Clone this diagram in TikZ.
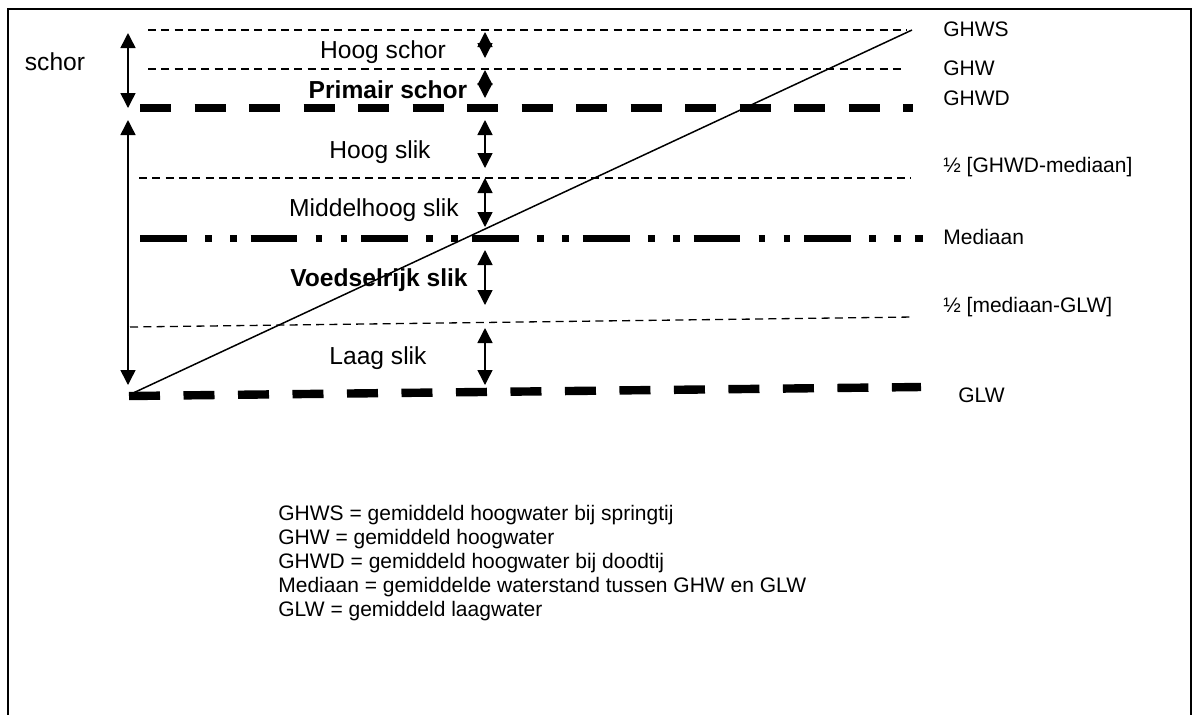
\documentclass[tikz,border=0pt]{standalone}
\usepackage{fontspec}
\setmainfont{Liberation Sans}
\usetikzlibrary{arrows.meta}

\begin{document}
\begin{tikzpicture}[
  x=0.5pt, y=-0.5pt,
  >={Triangle[length=7.5pt,width=7.5pt]},
  thindash/.style={line width=0.65pt, dash pattern=on 4pt off 2.65pt},
  thickdash/.style={line width=4.2pt, dash pattern=on 15.5pt off 11.75pt},
  median/.style={line width=3.5pt,
    dash pattern=on 23.35pt off 9.15pt on 3.35pt off 9.15pt on 3.35pt off 7pt},
  dimarrow/.style={<->, line width=0.75pt},
  zone/.style={font=\fontsize{12.3}{14}\selectfont, inner sep=0pt},
  zonebf/.style={font=\fontsize{12.3}{14}\selectfont\bfseries, inner sep=0pt},
  level/.style={font=\fontsize{10.5}{12}\selectfont, anchor=west, inner sep=0pt},
]
\useasboundingbox (0,0) rectangle (1195,714);

% frame, open at the bottom
\draw[line width=1pt] (8,716) -- (8,9) -- (1191,9) -- (1191,716);

% water levels
\coordinate (ghws-l) at (148,30);  \coordinate (ghws-r) at (907,30);
\coordinate (ghw-l)  at (148,69);  \coordinate (ghw-r)  at (906,69);
\coordinate (ghwd-l) at (140,108); \coordinate (ghwd-r) at (913,108);
\coordinate (half1-l) at (139,178); \coordinate (half1-r) at (911,178);
\coordinate (med-l)  at (140,238); \coordinate (med-r)  at (923,238);
\coordinate (half2-l) at (130,327); \coordinate (half2-r) at (913,317);
\coordinate (glw-l)  at (129,396); \coordinate (glw-r)  at (921,387);

\draw[thindash] (ghws-l) -- (ghws-r);
\draw[thindash] (ghw-l) -- (ghw-r);
\draw[thickdash] (ghwd-l) -- (ghwd-r);
\draw[thindash] (half1-l) -- (half1-r);
\draw[median] (med-l) -- (med-r);
\draw[thindash] (half2-l) -- (half2-r);
\draw[thickdash] (glw-l) -- (glw-r);

% slope
\coordinate (slope-lo) at (131,394);
\coordinate (slope-hi) at (912,30);
\draw[line width=0.75pt] (slope-lo) -- (slope-hi);

% level names
\node[level] (n-ghws)  at (943,29)  {GHWS};
\node[level] (n-ghw)   at (943,68)  {GHW};
\node[level] (n-ghwd)  at (943,98)  {GHWD};
\node[level] (n-half1) at (943,167) {½ [GHWD-mediaan]};
\node[level] (n-med)   at (943,237) {Mediaan};
\node[level] (n-half2) at (943,307) {½ [mediaan-GLW]};
\node[level] (n-glw)   at (958,395) {GLW};

% left ranges
\node[zone] (schor) at (55,62) {schor};
\coordinate (sc-top) at (128,33);  \coordinate (sc-bot) at (128,108);
\coordinate (sl-top) at (128,120); \coordinate (sl-bot) at (128,385);
\draw[dimarrow] (sc-top) -- (sc-bot);
\draw[dimarrow] (sl-top) -- (sl-bot);

% zones
\node[zone]   (hschor) at (383,52)  {Hoog schor};
\node[zonebf] (pschor) at (388,90)  {Primair schor};
\node[zone]   (hslik)  at (380,152) {Hoog slik};
\node[zone]   (mslik)  at (374,210) {Middelhoog slik};
\node[zonebf] (vslik)  at (379,280) {Voedselrijk slik};
\node[zone]   (lslik)  at (378,358) {Laag slik};

\foreach \i/\top/\bot in {1/32/58, 2/70/98, 3/120/168, 4/178/227, 5/250/305, 6/328/385}{
  \coordinate (z\i-top) at (485,\top);
  \coordinate (z\i-bot) at (485,\bot);
  \draw[dimarrow] (z\i-top) -- (z\i-bot);
}

% legend
\node[anchor=north west, align=left, inner sep=0pt,
      font=\fontsize{10.5}{12}\selectfont] (legend) at (278,505)
  {GHWS = gemiddeld hoogwater bij springtij\\
   GHW = gemiddeld hoogwater\\
   GHWD = gemiddeld hoogwater bij doodtij\\
   Mediaan = gemiddelde waterstand tussen GHW en GLW\\
   GLW = gemiddeld laagwater};
\end{tikzpicture}
\end{document}
